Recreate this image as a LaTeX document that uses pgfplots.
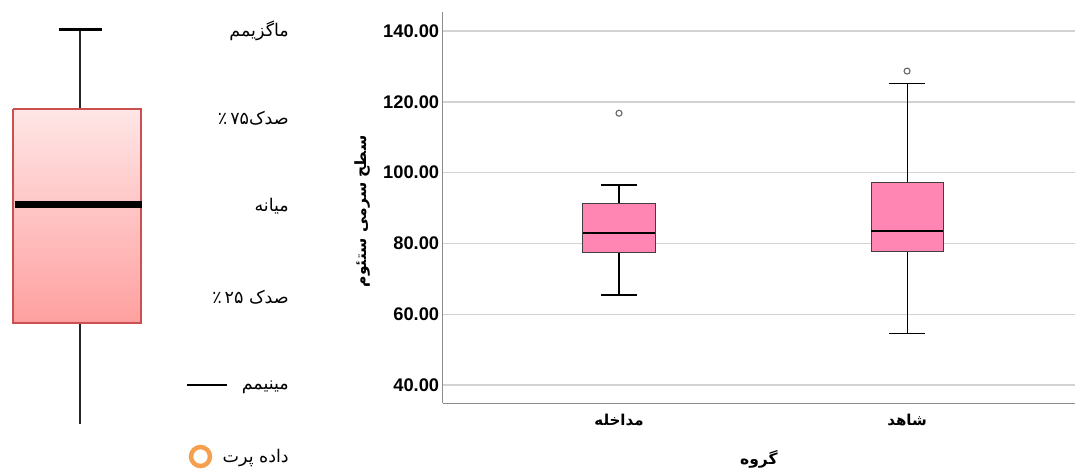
\documentclass[border=0pt]{standalone}
\usepackage{fontspec}
\usepackage{pgfplots}
\pgfplotsset{compat=1.18}
\setmainfont{Liberation Sans}
\newfontfamily\fa[Script=Arabic]{DejaVu Sans}
\TeXXeTstate=1
\definecolor{pinkbox}{RGB}{255,133,178}
\definecolor{legred}{RGB}{204,80,80}
\definecolor{legtop}{RGB}{255,230,230}
\definecolor{legbot}{RGB}{255,160,160}
\definecolor{legorange}{RGB}{245,160,80}
\definecolor{axisgray}{RGB}{140,140,140}
\definecolor{gridgray}{RGB}{210,210,210}
\begin{document}
\begin{tikzpicture}
\useasboundingbox (0pt,0pt) rectangle (1075pt,469pt);
% ---------- key panel ----------
\begin{axis}[at={(0pt,0pt)}, anchor=south west, scale only axis,
  width=300pt, height=469pt, xmin=0, xmax=300, ymin=0, ymax=469,
  y dir=reverse, hide axis, clip=false]
\addplot[black!85, line width=2pt] coordinates {(80,29) (80,109)};
\addplot[black!85, line width=2pt] coordinates {(80,323) (80,424)};
\addplot[black, line width=3pt] coordinates {(59,29) (102,29)};
\addplot[draw=legred, line width=1.5pt, top color=legtop, bottom color=legbot]
  coordinates {(13,109) (141,109) (141,323) (13,323) (13,109)};
\addplot[black, line width=7pt] coordinates {(15,204) (142,204)};
\addplot[black, line width=2pt] coordinates {(187,385) (227,385)};
\addplot[only marks, mark=o, mark size=9.5pt, mark options={draw=legorange, line width=4.5pt}]
  coordinates {(200.5,456.5)};
\tikzset{keylab/.style={anchor=east, inner sep=0pt, font=\fa\fontsize{17.5}{21}\selectfont}}
\node[keylab] at (axis cs:289,31) {\beginR ماگزیمم\endR};
\node[keylab] at (axis cs:289,118) {\beginR صدک\beginL۷۵\endL\,٪\endR};
\node[keylab] at (axis cs:289,206) {\beginR میانه\endR};
\node[keylab] at (axis cs:289,297) {\beginR صدک \beginL۲۵\endL\,٪\endR};
\node[keylab] at (axis cs:289,387) {\beginR مینیمم\endR};
\node[keylab] at (axis cs:289,458) {\beginR داده پرت\endR};
\end{axis}
% ---------- main boxplot ----------
\begin{axis}[at={(442.7pt,66pt)}, anchor=south west, scale only axis,
  width=632.3pt, height=391pt,
  xmin=0.388, xmax=2.583, ymin=34.9, ymax=145.4,
  axis x line*=bottom, axis y line*=left,
  axis line style={draw=axisgray, line width=1pt, -},
  ytick={40,60,80,100,120,140},
  /pgf/number format/fixed, /pgf/number format/fixed zerofill,
  /pgf/number format/precision=2, /pgf/number format/assume math mode=true,
  yticklabel style={font=\bfseries\fontsize{18.3}{22}\selectfont},
  xtick={1,2},
  xticklabels={\beginR مداخله\endR, \beginR شاهد\endR},
  xticklabel style={font=\fa\bfseries\fontsize{15}{18}\selectfont, yshift=-8pt},
  major tick length=0pt,
  ymajorgrids, grid style={draw=gridgray, line width=1.3pt},
  xlabel={\beginR گروه\endR},
  xlabel style={font=\fa\bfseries\fontsize{15.5}{18}\selectfont, at={(axis description cs:0.5,0)}, anchor=center, yshift=-56pt},
  ylabel={\beginR سطح سرمی ستئوم\endR},
  ylabel style={font=\fa\bfseries\fontsize{15.5}{18}\selectfont, at={(axis description cs:-0.1276,0.49)}, anchor=center},
  clip=false]
% group 1 (مداخله)
\addplot[black, line width=1.1pt] coordinates {(1,65.4) (1,77.3)};
\addplot[black, line width=1.1pt] coordinates {(1,91.4) (1,96.5)};
\addplot[black, line width=1.3pt] coordinates {(0.9375,65.4) (1.0625,65.4)};
\addplot[black, line width=1.3pt] coordinates {(0.9375,96.5) (1.0625,96.5)};
\addplot[draw=black!75, fill=pinkbox, line width=1pt]
  coordinates {(0.874,77.3) (1.126,77.3) (1.126,91.4) (0.874,91.4) (0.874,77.3)};
\addplot[black, line width=1.8pt] coordinates {(0.874,82.9) (1.126,82.9)};
% group 2 (شاهد)
\addplot[black, line width=1.1pt] coordinates {(2,54.6) (2,77.6)};
\addplot[black, line width=1.1pt] coordinates {(2,97.1) (2,125.1)};
\addplot[black, line width=1.3pt] coordinates {(1.9375,54.6) (2.0625,54.6)};
\addplot[black, line width=1.3pt] coordinates {(1.9375,125.1) (2.0625,125.1)};
\addplot[draw=black!75, fill=pinkbox, line width=1pt]
  coordinates {(1.875,77.6) (2.125,77.6) (2.125,97.1) (1.875,97.1) (1.875,77.6)};
\addplot[black, line width=1.8pt] coordinates {(1.875,83.5) (2.125,83.5)};
% outliers
\addplot[only marks, mark=o, mark size=3pt, mark options={draw=black!60, line width=1.1pt}]
  coordinates {(1,116.8) (2,128.7)};
\end{axis}
\end{tikzpicture}
\end{document}
